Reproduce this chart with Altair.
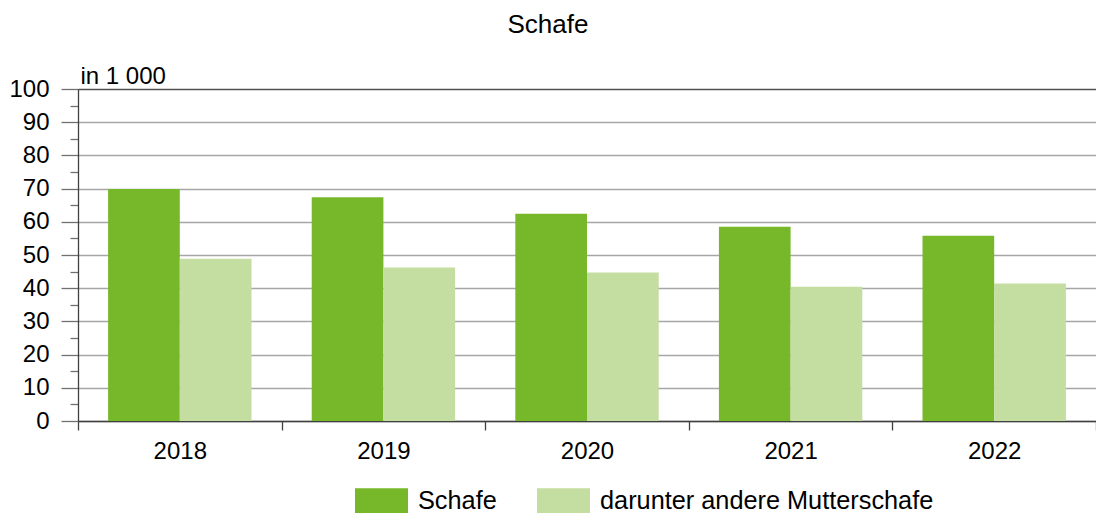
import altair as alt
import pandas as pd

years = ["2018", "2019", "2020", "2021", "2022"]
schafe = [69.9, 67.4, 62.4, 58.5, 55.8]
mutterschafe = [48.9, 46.2, 44.7, 40.4, 41.4]
series = ["Schafe", "darunter andere Mutterschafe"]
colors = ["#77b82b", "#c4dda1"]
y_ticks = list(range(0, 101, 5))

rows = []
for i, yr in enumerate(years):
    rows.append({"Jahr": yr, "Reihe": series[0], "Wert": schafe[i]})
    rows.append({"Jahr": yr, "Reihe": series[1], "Wert": mutterschafe[i]})
df = pd.DataFrame(rows)

FONT = "Liberation Sans"

bars = alt.Chart(df).mark_bar().encode(
    x=alt.X(
        "Jahr:N", sort=years,
        scale=alt.Scale(paddingInner=0, paddingOuter=0),
        axis=alt.Axis(
            title=None, labelAngle=0, tickBand="extent", tickSize=9,
            domainColor="#404040", tickColor="#404040", domainWidth=1.3, tickWidth=1.3,
            labelFontSize=24, labelPadding=9, labelColor="black", labelFont=FONT, grid=False,
        ),
    ),
    xOffset=alt.XOffset("Reihe:N", sort=series, scale=alt.Scale(paddingInner=0, paddingOuter=0.42)),
    y=alt.Y(
        "Wert:Q",
        scale=alt.Scale(domain=[0, 100], nice=False),
        axis=alt.Axis(
            values=y_ticks, labelOverlap=False,
            labelExpr="datum.value % 10 === 0 ? datum.label : ''",
            tickSize={"condition": {"test": "datum.value % 10 === 0", "value": 17}, "value": 8},
            tickColor="#707070", tickWidth=1.3,
            grid=True,
            gridColor={"condition": {"test": "datum.value === 100", "value": "#505050"}, "value": "#a6a6a6"},
            gridOpacity={"condition": {"test": "datum.value % 10 !== 0", "value": 0}, "value": 1},
            gridWidth=1.4,
            domainColor="#404040", domainWidth=1.3,
            labelFontSize=24, labelPadding=12, labelColor="black", labelFont=FONT,
            title="in 1 000", titleAngle=0, titleX=2, titleY=-6, titleAlign="left",
            titleBaseline="alphabetic", titleFontSize=24, titleFontWeight="normal",
            titleColor="black", titleFont=FONT,
        ),
    ),
    color=alt.Color(
        "Reihe:N", sort=series,
        scale=alt.Scale(domain=series, range=colors),
        legend=alt.Legend(
            title=None, orient="none", legendX=277, legendY=385, direction="horizontal",
            symbolType="M-1,-0.47H1V0.47H-1Z", symbolSize=2809, symbolStrokeWidth=0,
            symbolOpacity=1, labelFontSize=25.3, labelOffset=10, columnPadding=40,
            padding=0, labelColor="black", labelFont=FONT, labelLimit=0,
        ),
    ),
)

chart = bars.properties(
    width=1018,
    height=332,
    autosize=alt.AutoSizeParams(type="none"),
    padding={"left": 70, "top": 81, "right": 0, "bottom": 92},
    title=alt.Title(
        "Schafe", fontSize=26, fontWeight="normal", color="black", font=FONT,
        offset=5, dx=-39, baseline="alphabetic", frame="group",
    ),
).configure_view(stroke=None).configure(background="white")

chart.save("out.html", embed_options={"renderer": "svg", "actions": False})
